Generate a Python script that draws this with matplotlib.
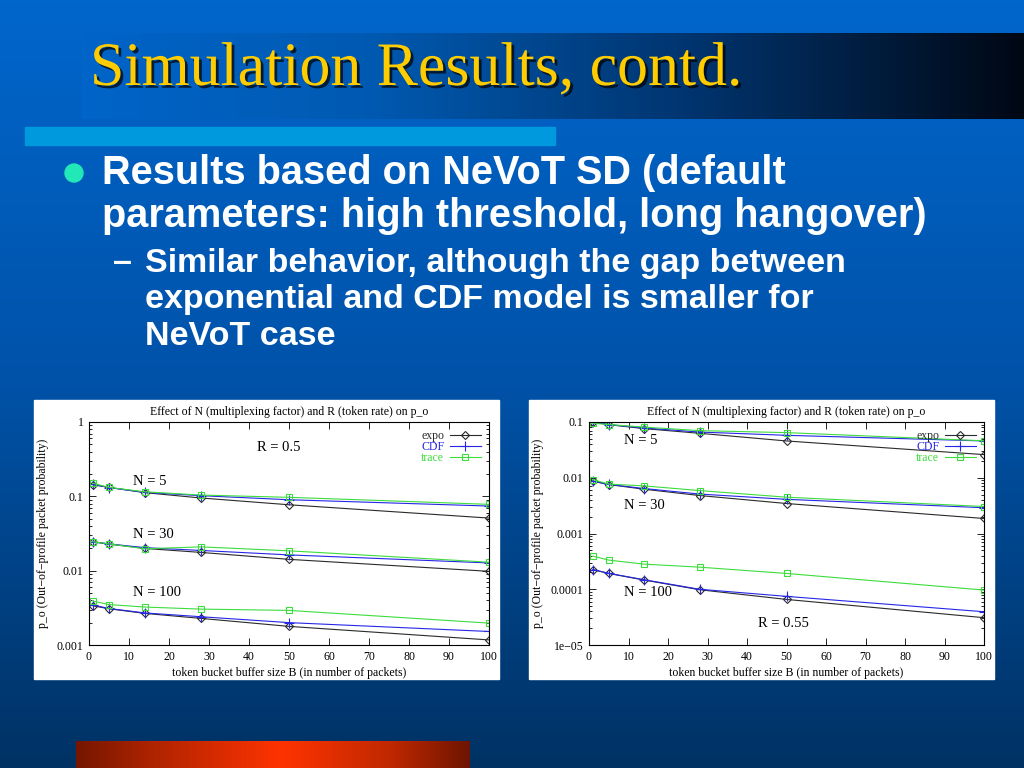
import numpy as np
import matplotlib
matplotlib.use('Agg')
import matplotlib.pyplot as plt
import matplotlib.patheffects as pe
from matplotlib.patches import Rectangle, Circle
from matplotlib.colors import LinearSegmentedColormap
from matplotlib.ticker import MultipleLocator, LogLocator, FixedLocator, FixedFormatter, NullFormatter

# token bucket buffer sizes
B = [1, 5, 14, 28, 50, 100]

# left panel, R = 0.5
l_expo_5 = [0.143, 0.132, 0.112, 0.095, 0.077, 0.051]
l_cdf_5 = [0.145, 0.131, 0.113, 0.102, 0.090, 0.074]
l_trace_5 = [0.150, 0.132, 0.115, 0.104, 0.097, 0.078]
l_expo_30 = [0.0244, 0.0228, 0.0199, 0.0176, 0.0142, 0.0098]
l_cdf_30 = [0.0244, 0.0229, 0.0204, 0.0187, 0.0163, 0.0127]
l_trace_30 = [0.0245, 0.0229, 0.0197, 0.0209, 0.0185, 0.0130]
l_expo_100 = [0.00337, 0.00307, 0.00266, 0.00228, 0.00178, 0.00117]
l_cdf_100 = [0.00345, 0.00310, 0.00270, 0.00240, 0.00200, 0.00152]
l_trace_100 = [0.0039, 0.0035, 0.00324, 0.00304, 0.00292, 0.00197]

# right panel, R = 0.55
r_expo_5 = [0.100, 0.0895, 0.076, 0.0627, 0.0457, 0.026]
r_cdf_5 = [0.100, 0.090, 0.078, 0.066, 0.0577, 0.0457]
r_trace_5 = [0.095, 0.090, 0.081, 0.070, 0.0645, 0.046]
r_expo_30 = [0.00865, 0.00755, 0.00622, 0.0048, 0.00345, 0.00186]
r_cdf_30 = [0.0087, 0.0076, 0.0064, 0.0051, 0.0041, 0.0029]
r_trace_30 = [0.00927, 0.0077, 0.00714, 0.00589, 0.00448, 0.00305]
r_expo_100 = [0.000224, 0.000192, 0.000146, 0.000098, 0.0000657, 0.0000309]
r_cdf_100 = [0.000226, 0.000193, 0.000148, 0.000100, 0.0000745, 0.0000395]
r_trace_100 = [0.000393, 0.000333, 0.000282, 0.000249, 0.000192, 0.0000967]

l_yticks = [1, 0.1, 0.01, 0.001]
l_ylabels = ['1', '0.1', '0.01', '0.001']
r_yticks = [0.1, 0.01, 0.001, 0.0001, 0.00001]
r_ylabels = ['0.1', '0.01', '0.001', '0.0001', '1e\u221205']

serif = 'Liberation Serif'
c_expo = '#2a2a2a'
c_cdf = '#2626e8'
c_trace = '#3ddc3d'

fig = plt.figure(figsize=(10.24, 7.68), dpi=100)

# slide background, pixel coordinates
bg = fig.add_axes([0, 0, 1, 1])
bg.set_xlim(0, 1024)
bg.set_ylim(768, 0)
bg.axis('off')

vcmap = LinearSegmentedColormap.from_list('v', ['#0066cc', '#0052a8', '#003264'])
bg.imshow(np.linspace(0, 1, 256).reshape(-1, 1), cmap=vcmap, aspect='auto',
          extent=(0, 1024, 768, 0), zorder=0)

hcmap = LinearSegmentedColormap.from_list('h', [(0, '#0064c8'), (0.3, '#005ab2'),
                                                (0.65, '#00346e'), (1, '#000814')])
bg.imshow(np.linspace(0, 1, 256).reshape(1, -1), cmap=hcmap, aspect='auto',
          extent=(82, 1024, 119, 33), zorder=1)

rcmap = LinearSegmentedColormap.from_list('r', [(0, '#761600'), (0.2, '#b02400'),
                                                (0.52, '#ff3300'), (0.8, '#c02800'),
                                                (1, '#6e1400')])
bg.imshow(np.linspace(0, 1, 256).reshape(1, -1), cmap=rcmap, aspect='auto',
          extent=(76, 470, 768, 741), zorder=1)

bg.add_patch(Rectangle((25, 127), 530, 18, color='#0099dd', zorder=2))

bg.text(90, 85, 'Simulation Results, contd.', fontsize=44.5, family=serif,
        color='#ffcc00', va='baseline', zorder=3,
        path_effects=[pe.withSimplePatchShadow(offset=(2, -2), shadow_rgbFace='black', alpha=0.7)])

bg.add_patch(Circle((74, 173), 9, color='#22e8b8', zorder=3))
bg.text(102, 184, 'Results based on NeVoT SD (default', fontsize=28.6, weight='bold',
        family='Liberation Sans', color='white', va='baseline', zorder=3)
bg.text(102, 227, 'parameters: high threshold, long hangover)', fontsize=28.6, weight='bold',
        family='Liberation Sans', color='white', va='baseline', zorder=3)
bg.text(113, 271, '\u2013', fontsize=24.5, weight='bold',
        family='Liberation Sans', color='white', va='baseline', zorder=3)
sub = ['Similar behavior, although the gap between',
       'exponential and CDF model is smaller for',
       'NeVoT case']
for txt, yb in zip(sub, [272, 308, 345]):
    bg.text(145, yb, txt, fontsize=24.5, weight='bold', family='Liberation Sans',
            color='white', va='baseline', zorder=3)

bg.add_patch(Rectangle((34, 400), 465, 279, color='white', zorder=2))
bg.add_patch(Rectangle((529, 400), 465, 279, color='white', zorder=2))

axL = fig.add_axes([89 / 1024, 1 - 645 / 768, 400 / 1024, 223 / 768])
axR = fig.add_axes([589 / 1024, 1 - 645 / 768, 395 / 1024, 223 / 768])

panels = [
    (axL, [(l_expo_5, l_cdf_5, l_trace_5), (l_expo_30, l_cdf_30, l_trace_30),
           (l_expo_100, l_cdf_100, l_trace_100)], (0.001, 1), l_yticks, l_ylabels, -0.10),
    (axR, [(r_expo_5, r_cdf_5, r_trace_5), (r_expo_30, r_cdf_30, r_trace_30),
           (r_expo_100, r_cdf_100, r_trace_100)], (0.00001, 0.1), r_yticks, r_ylabels, -0.115),
]

for ax, groups, ylim, yt, yl, ylx in panels:
    for i, (e, c, t) in enumerate(groups):
        ax.plot(B, e, color=c_expo, lw=0.8, marker='D', ms=4, mfc='none', mew=0.8,
                label='expo' if i == 0 else None)
        ax.plot(B, c, color=c_cdf, lw=0.8, marker='+', ms=6.5, mew=0.8,
                label='CDF' if i == 0 else None)
        ax.plot(B, t, color=c_trace, lw=0.8, marker='s', ms=5, mfc='none', mew=0.8,
                label='trace' if i == 0 else None)
    ax.set_yscale('log')
    ax.set_xlim(0, 100)
    ax.set_ylim(*ylim)
    ax.xaxis.set_major_locator(MultipleLocator(10))
    ax.yaxis.set_major_locator(FixedLocator(yt))
    ax.yaxis.set_major_formatter(FixedFormatter(yl))
    ax.yaxis.set_minor_locator(LogLocator(base=10, subs=np.arange(2, 10)))
    ax.yaxis.set_minor_formatter(NullFormatter())
    ax.tick_params(which='both', direction='in', top=True, right=True, labelsize=8.5,
                   width=0.6, pad=4)
    ax.tick_params(which='major', length=5)
    ax.tick_params(which='minor', length=2.5)
    for lab in ax.get_xticklabels() + ax.get_yticklabels():
        lab.set_family(serif)
    for s in ax.spines.values():
        s.set_linewidth(0.8)
    ax.set_title('Effect of N (multiplexing factor) and R (token rate) on p_o',
                 fontsize=8.5, family=serif, pad=5)
    ax.set_xlabel('token bucket buffer size B (in number of packets)', fontsize=8.5,
                  family=serif, labelpad=3)
    ax.set_ylabel('p_o (Out\u2212of\u2212profile packet probability)', fontsize=8.5, family=serif)
    ax.yaxis.set_label_coords(ylx, 0.5)
    ax.legend(loc='upper right', frameon=False, markerfirst=False, labelcolor='linecolor',
              prop={'family': serif, 'size': 8.5}, handlelength=2.6, labelspacing=-0.1,
              handletextpad=0.5, borderaxespad=0.3)

axL.text(11, 0.16, 'N = 5', fontsize=10.5, family=serif, va='center')
axL.text(11, 0.0306, 'N = 30', fontsize=10.5, family=serif, va='center')
axL.text(11, 0.00505, 'N = 100', fontsize=10.5, family=serif, va='center')
axL.text(47.4, 0.448, 'R = 0.5', fontsize=10.5, family=serif, va='center', ha='center')

axR.text(8.8, 0.0463, 'N = 5', fontsize=10.5, family=serif, va='center')
axR.text(8.8, 0.00321, 'N = 30', fontsize=10.5, family=serif, va='center')
axR.text(8.8, 0.0000865, 'N = 100', fontsize=10.5, family=serif, va='center')
axR.text(49.1, 0.0000241, 'R = 0.55', fontsize=10.5, family=serif, va='center', ha='center')

fig.savefig('out.png', dpi=100)
